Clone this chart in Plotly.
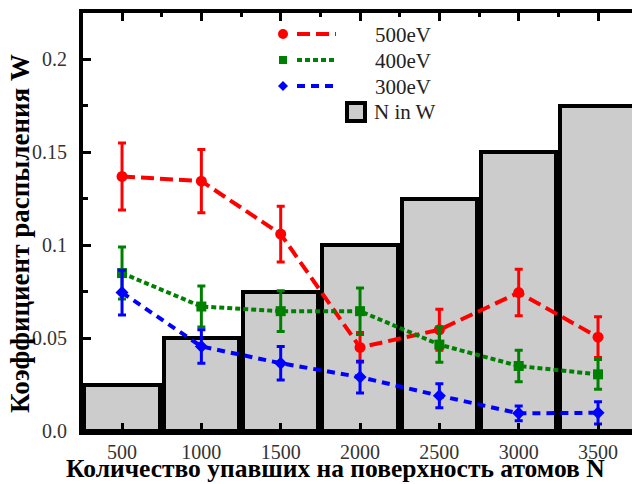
import plotly.graph_objects as go

# ---- data ----
N = [500, 1000, 1500, 2000, 2500, 3000, 3500]
n_in_w = [0.025, 0.05, 0.075, 0.1, 0.125, 0.15, 0.175]
w500 = [0.137, 0.1345, 0.106, 0.045, 0.0545, 0.0745, 0.0505]
e500 = [0.018, 0.017, 0.015, 0.008, 0.011, 0.0125, 0.011]
w400 = [0.085, 0.067, 0.0645, 0.0645, 0.0465, 0.035, 0.0305]
e400 = [0.014, 0.011, 0.011, 0.0125, 0.0095, 0.0085, 0.008]
w300 = [0.0745, 0.0455, 0.0365, 0.029, 0.019, 0.0095, 0.0098]
e300 = [0.012, 0.009, 0.009, 0.0085, 0.0065, 0.004, 0.006]
y_tickvals = [0, 0.05, 0.1, 0.15, 0.2]
y_ticktext = ["0.0", "0.05", "0.1", "0.15", "0.2"]
series_names = ["500eV", "400eV", "300eV", "N in W"]
x_title = "Количество упавших на поверхность атомов N"
y_title = "Коэффициент распыления W"

W, H = 632, 484
ML, MR, MT, MB = 83, 0, 13, 53
PW, PH = W - ML - MR, H - MT - MB

def px(x):
    return (x - ML) / PW

def py(y):
    return (H - MB - y) / PH

SERIF = "Liberation Serif"

fig = go.Figure()
fig.add_trace(go.Bar(x=N, y=n_in_w, width=475,
                     marker=dict(color="#cccccc", line=dict(color="black", width=4)),
                     name=series_names[3], showlegend=False))

styles = [
    (w500, e500, "red", "circle", 11, "13px,6px"),
    (w400, e400, "green", "square", 10, "5px,3px"),
    (w300, e300, "blue", "diamond", 10, "8px,6px"),
]
for (vals, errs, col, sym, ms, dash), name in zip(styles, series_names[:3]):
    fig.add_trace(go.Scatter(
        x=N, y=vals, mode="lines+markers", name=name, showlegend=False,
        line=dict(color=col, width=4, dash=dash),
        marker=dict(color=col, symbol=sym, size=ms),
        error_y=dict(type="data", array=errs, visible=True, color=col, thickness=3, width=4),
    ))

# ---- manual legend (layout decoration) ----
shapes = []
annotations = []
leg_rows = [(34, "red", "circle", "13px,6px"), (60, "green", "square", "5px,3px"), (86, "blue", "diamond", "8px,6px")]
for (yy, col, sym, dash), name in zip(leg_rows, series_names[:3]):
    if sym == "circle":
        shapes.append(dict(type="circle", xref="paper", yref="paper", xsizemode="pixel", ysizemode="pixel",
                           xanchor=px(283), yanchor=py(yy), x0=-5, x1=5, y0=-5, y1=5,
                           fillcolor=col, line=dict(width=0)))
    elif sym == "square":
        shapes.append(dict(type="rect", xref="paper", yref="paper", xsizemode="pixel", ysizemode="pixel",
                           xanchor=px(283), yanchor=py(yy), x0=-4, x1=4, y0=-4, y1=4,
                           fillcolor=col, line=dict(width=0)))
    else:
        shapes.append(dict(type="path", xref="paper", yref="paper", xsizemode="pixel", ysizemode="pixel",
                           xanchor=px(283), yanchor=py(yy), path="M -5 0 L 0 5 L 5 0 L 0 -5 Z",
                           fillcolor=col, line=dict(width=0)))
    shapes.append(dict(type="line", xref="paper", yref="paper", x0=px(297), x1=px(336), y0=py(yy), y1=py(yy),
                       line=dict(color=col, width=4, dash=dash)))
    annotations.append(dict(x=px(373), y=py(yy + 1), xref="paper", yref="paper", text=name, showarrow=False,
                            xanchor="left", yanchor="middle", font=dict(family=SERIF, size=21, color="#222")))
shapes.append(dict(type="rect", xref="paper", yref="paper", x0=px(347), x1=px(365), y0=py(121), y1=py(103),
                   fillcolor="#cccccc", line=dict(color="black", width=4)))
annotations.append(dict(x=px(372), y=py(112), xref="paper", yref="paper", text=series_names[3], showarrow=False,
                        xanchor="left", yanchor="middle", font=dict(family=SERIF, size=21, color="#222")))

# axis titles placed as annotations (positioned like the reference)
annotations.append(dict(x=px(335), y=py(468), xref="paper", yref="paper", text="<b>" + x_title + "</b>",
                        showarrow=False, xanchor="center", yanchor="middle",
                        font=dict(family=SERIF, size=25.5, color="black")))
annotations.append(dict(x=px(20), y=py(234), xref="paper", yref="paper", text="<b>" + y_title + "</b>",
                        showarrow=False, xanchor="center", yanchor="middle", textangle=-90,
                        font=dict(family=SERIF, size=27, color="black")))

fig.update_layout(
    width=W, height=H,
    margin=dict(l=ML, r=MR, t=MT, b=MB, autoexpand=False),
    plot_bgcolor="white", paper_bgcolor="white",
    showlegend=False, bargap=0,
    shapes=shapes, annotations=annotations,
    font=dict(family=SERIF, color="#333"),
)
fig.update_xaxes(
    range=[254, 3714], tickvals=N, ticks="inside", ticklen=8, tickwidth=3, tickcolor="black",
    showline=True, linewidth=4, linecolor="black", mirror="allticks", showgrid=False, zeroline=False,
    minor=dict(dtick=250, tick0=0, ticks="inside", ticklen=4, tickwidth=3, tickcolor="black"),
    tickfont=dict(family=SERIF, size=20, color="#333"), ticklabelstandoff=0,
)
fig.update_yaxes(
    range=[0, 0.225], tickvals=y_tickvals, ticktext=y_ticktext, ticks="inside", ticklen=8, tickwidth=3,
    tickcolor="black", showline=True, linewidth=4, linecolor="black", mirror=False, showgrid=False,
    zeroline=False,
    minor=dict(dtick=0.025, tick0=0, ticks="inside", ticklen=5, tickwidth=3, tickcolor="black"),
    tickfont=dict(family=SERIF, size=20, color="#333"), ticklabelstandoff=8,
)

fig.write_html("out.html", config={"displayModeBar": False},
               post_script="document.body.style.margin='0px';")
